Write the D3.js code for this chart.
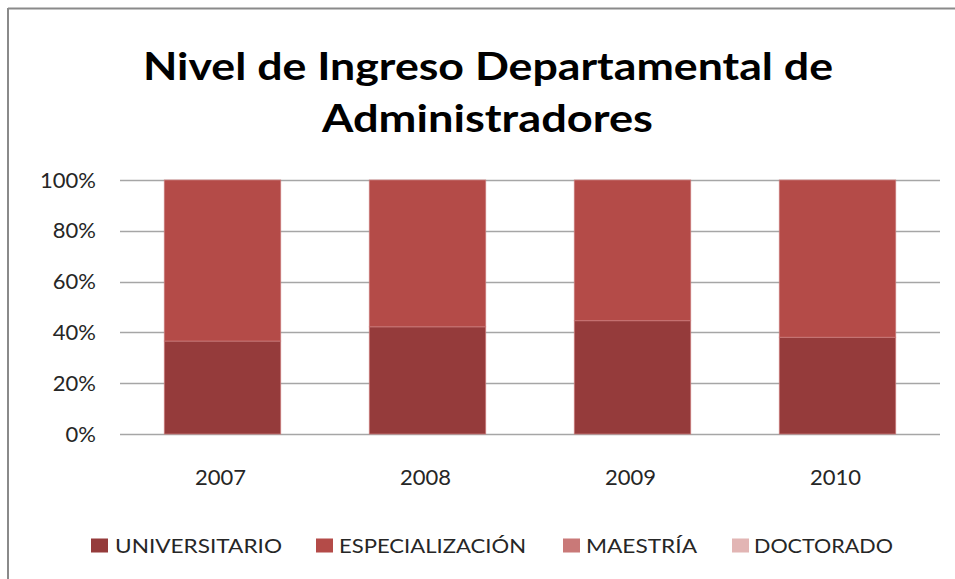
<!DOCTYPE html>
<html>
<head>
<meta charset="utf-8">
<script src="https://cdn.jsdelivr.net/npm/d3@7"></script>
<style>
  html, body { margin: 0; padding: 0; background: #fff; }
  svg { display: block; }
</style>
</head>
<body>
<svg id="chart" width="955" height="579"></svg>
<script>
const categories = ["2007", "2008", "2009", "2010"];
const seriesNames = ["UNIVERSITARIO", "ESPECIALIZACIÓN", "MAESTRÍA", "DOCTORADO"];
const universitario = [36.6, 42.2, 44.6, 38.1];
const especializacion = [63.4, 57.8, 55.4, 61.9];
const maestria = [0, 0, 0, 0];
const doctorado = [0, 0, 0, 0];
const yTicks = [0, 0.2, 0.4, 0.6, 0.8, 1.0];
const titleLines = ["Nivel de Ingreso Departamental de", "Administradores"];
const colors = ["#953B3B", "#B44B48", "#C97978", "#E2B5B4"];

const seriesValues = [universitario, especializacion, maestria, doctorado];
const table = categories.map((c, i) => {
  const row = { cat: c };
  seriesNames.forEach((s, j) => row[s] = seriesValues[j][i]);
  return row;
});

const svg = d3.select("#chart");

// frame
svg.append("line").attr("x1", 8).attr("x2", 955).attr("y1", 8.5).attr("y2", 8.5)
  .attr("stroke", "#8a8a8a").attr("stroke-width", 2);
svg.append("line").attr("x1", 8).attr("x2", 8).attr("y1", 8).attr("y2", 579)
  .attr("stroke", "#8a8a8a").attr("stroke-width", 2);

// title
const titleInfo = [
  { text: titleLines[0], y: 80, len: 690, cx: 488 },
  { text: titleLines[1], y: 132, len: 331, cx: 487.5 }
];
svg.selectAll("text.title").data(titleInfo).join("text")
  .attr("class", "title")
  .attr("x", d => d.cx).attr("y", d => d.y)
  .attr("text-anchor", "middle")
  .attr("font-family", "Lato, 'Open Sans', sans-serif")
  .attr("font-weight", "bold")
  .attr("font-size", 38)
  .attr("fill", "#000")
  .attr("textLength", d => d.len)
  .attr("lengthAdjust", "spacingAndGlyphs")
  .text(d => d.text);

const x = d3.scaleBand().domain(categories).range([120, 940])
  .paddingInner(0.432).paddingOuter(0.216);
const y = d3.scaleLinear().domain([0, 1]).range([434, 180]);

// gridlines
svg.append("g").selectAll("line").data(yTicks).join("line")
  .attr("x1", 120).attr("x2", 940)
  .attr("y1", d => Math.round(y(d)) + 0.5).attr("y2", d => Math.round(y(d)) + 0.5)
  .attr("stroke", "#a6a6a6").attr("stroke-width", 1.5);

// y axis labels
const yAxis = d3.axisLeft(y).tickValues(yTicks).tickFormat(d3.format(".0%")).tickSize(0).tickPadding(0);
const gy = svg.append("g").attr("transform", "translate(96,0)").call(yAxis);
gy.select(".domain").remove();
gy.selectAll("text").attr("font-family", "Lato, sans-serif").attr("font-size", 22).attr("fill", "#262626");

// x axis labels
const xAxis = d3.axisBottom(x).tickSize(0).tickPadding(0);
const gx = svg.append("g").attr("transform", "translate(-2,469)").call(xAxis);
gx.select(".domain").remove();
gx.selectAll("text").attr("font-family", "Lato, sans-serif").attr("font-size", 22).attr("fill", "#262626");

// stacked bars
const stack = d3.stack().keys(seriesNames).offset(d3.stackOffsetExpand);
const stacked = stack(table);
svg.append("g").selectAll("g").data(stacked).join("g")
  .attr("fill", (d, i) => colors[i])
  .selectAll("rect").data(d => d).join("rect")
  .attr("x", d => x(d.data.cat))
  .attr("width", x.bandwidth())
  .attr("y", d => y(d[1]))
  .attr("height", d => Math.max(0, y(d[0]) - y(d[1])))
  .attr("stroke", d => (d[1] - d[0]) > 0 ? "#c97a7a" : "none")
  .attr("stroke-width", 0.8);

// legend
const legendInfo = [
  { sx: 91, tx: 115, len: 167 },
  { sx: 316, tx: 339, len: 187 },
  { sx: 563, tx: 586, len: 111 },
  { sx: 732, tx: 754, len: 139 }
];
const lg = svg.append("g").selectAll("g").data(seriesNames).join("g");
lg.append("rect")
  .attr("x", (d, i) => legendInfo[i].sx).attr("y", 538.5)
  .attr("width", 17).attr("height", 14)
  .attr("fill", (d, i) => colors[i]);
lg.append("text")
  .attr("x", (d, i) => legendInfo[i].tx).attr("y", 552.5)
  .attr("font-family", "Lato, sans-serif").attr("font-size", 20).attr("fill", "#262626")
  .attr("textLength", (d, i) => legendInfo[i].len)
  .attr("lengthAdjust", "spacingAndGlyphs")
  .text(d => d);
</script>
</body>
</html>
